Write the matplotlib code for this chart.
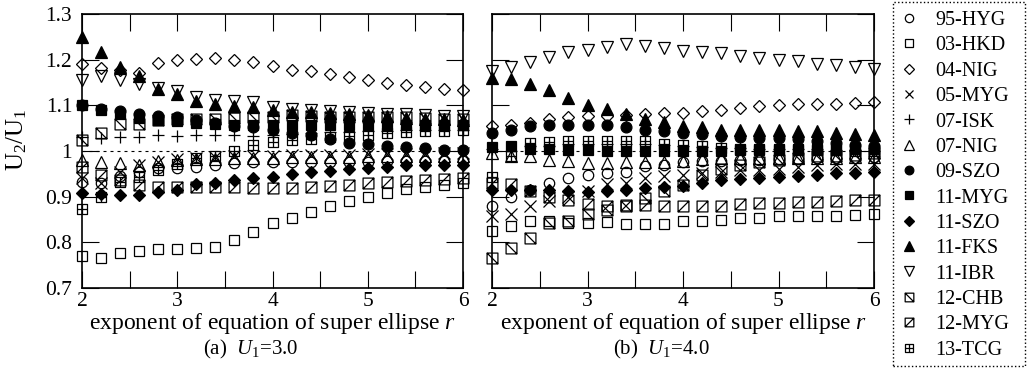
import matplotlib
matplotlib.use('Agg')
import matplotlib.pyplot as plt
from matplotlib.path import Path
from matplotlib.patches import Rectangle
from matplotlib.ticker import FixedLocator, FixedFormatter

plt.rcParams['font.family'] = 'serif'
plt.rcParams['font.serif'] = ['Liberation Serif', 'DejaVu Serif']
plt.rcParams['mathtext.fontset'] = 'custom'
plt.rcParams['mathtext.rm'] = 'Liberation Serif'
plt.rcParams['mathtext.it'] = 'Liberation Serif:italic'

# exponent r of the super ellipse
r = [2.0, 2.2, 2.4, 2.6, 2.8, 3.0, 3.2, 3.4, 3.6, 3.8, 4.0,
     4.2, 4.4, 4.6, 4.8, 5.0, 5.2, 5.4, 5.6, 5.8, 6.0]

names = ['95-HYG', '03-HKD', '04-NIG', '05-MYG', '07-ISK', '07-NIG', '09-SZO',
         '11-MYG', '11-SZO', '11-FKS', '11-IBR', '12-CHB', '12-MYG', '13-TCG']

# (a) U1 = 3.0
hyg95_a = [0.932, 0.930, 0.945, 0.955, 0.963, 0.963, 0.965, 0.969, 0.973, 0.976, 0.977, 0.977, 0.977, 0.977, 0.977, 0.977, 0.978, 0.978, 0.979, 0.979, 0.979]
hkd03_a = [0.770, 0.765, 0.777, 0.782, 0.785, 0.786, 0.787, 0.790, 0.805, 0.823, 0.842, 0.853, 0.867, 0.880, 0.891, 0.900, 0.909, 0.916, 0.922, 0.925, 0.929]
nig04_a = [1.190, 1.182, 1.178, 1.171, 1.192, 1.199, 1.201, 1.203, 1.199, 1.194, 1.187, 1.177, 1.175, 1.168, 1.161, 1.155, 1.150, 1.145, 1.141, 1.136, 1.134]
myg05_a = [0.940, 0.930, 0.955, 0.969, 0.976, 0.983, 0.985, 0.987, 0.988, 0.989, 0.990, 0.991, 0.991, 0.992, 0.992, 0.993, 0.993, 0.994, 0.994, 0.995, 0.995]
isk07_a = [1.030, 1.028, 1.031, 1.031, 1.034, 1.032, 1.034, 1.035, 1.034, 1.033, 1.036, 1.038, 1.040, 1.041, 1.042, 1.043, 1.044, 1.045, 1.046, 1.046, 1.047]
nig07_a = [0.980, 0.976, 0.974, 0.970, 0.978, 0.980, 0.982, 0.983, 0.984, 0.985, 0.985, 0.986, 0.986, 0.987, 0.987, 0.988, 0.988, 0.988, 0.989, 0.989, 0.990]
szo09_a = [1.100, 1.092, 1.087, 1.082, 1.077, 1.074, 1.068, 1.062, 1.055, 1.052, 1.047, 1.040, 1.035, 1.027, 1.018, 1.016, 1.010, 1.009, 1.006, 1.003, 1.002]
myg11_a = [1.101, 1.090, 1.080, 1.073, 1.068, 1.065, 1.062, 1.060, 1.058, 1.057, 1.056, 1.056, 1.056, 1.056, 1.057, 1.057, 1.057, 1.058, 1.058, 1.058, 1.058]
szo11_a = [0.907, 0.905, 0.904, 0.904, 0.910, 0.915, 0.927, 0.929, 0.936, 0.940, 0.944, 0.950, 0.953, 0.957, 0.960, 0.962, 0.966, 0.969, 0.969, 0.970, 0.970]
fks11_a = [1.250, 1.217, 1.185, 1.164, 1.135, 1.124, 1.110, 1.103, 1.098, 1.096, 1.090, 1.086, 1.085, 1.083, 1.081, 1.079, 1.076, 1.073, 1.071, 1.070, 1.068]
ibr11_a = [1.155, 1.164, 1.155, 1.147, 1.139, 1.132, 1.118, 1.112, 1.110, 1.108, 1.097, 1.092, 1.090, 1.088, 1.086, 1.084, 1.082, 1.080, 1.079, 1.077, 1.076]
chb12_a = [1.024, 1.039, 1.060, 1.060, 1.068, 1.069, 1.070, 1.071, 1.073, 1.074, 1.075, 1.078, 1.076, 1.075, 1.075, 1.075, 1.074, 1.074, 1.072, 1.071, 1.071]
myg12_a = [0.966, 0.947, 0.936, 0.925, 0.922, 0.921, 0.921, 0.921, 0.921, 0.920, 0.919, 0.919, 0.922, 0.924, 0.926, 0.929, 0.932, 0.934, 0.937, 0.938, 0.940]
tcg13_a = [0.874, 0.900, 0.933, 0.942, 0.958, 0.972, 0.984, 0.988, 1.000, 1.013, 1.019, 1.025, 1.027, 1.031, 1.032, 1.035, 1.039, 1.042, 1.043, 1.044, 1.046]

# (b) U1 = 4.0
hyg95_b = [0.880, 0.899, 0.915, 0.930, 0.941, 0.948, 0.952, 0.955, 0.967, 0.970, 0.975, 0.978, 0.979, 0.980, 0.981, 0.982, 0.983, 0.984, 0.985, 0.985, 0.986]
hkd03_b = [0.824, 0.835, 0.846, 0.846, 0.843, 0.842, 0.844, 0.840, 0.840, 0.840, 0.846, 0.846, 0.849, 0.853, 0.854, 0.857, 0.857, 0.857, 0.858, 0.860, 0.861]
nig04_b = [1.055, 1.058, 1.062, 1.071, 1.075, 1.076, 1.077, 1.079, 1.080, 1.083, 1.084, 1.088, 1.090, 1.095, 1.098, 1.100, 1.102, 1.102, 1.104, 1.106, 1.107]
myg05_b = [0.857, 0.862, 0.879, 0.890, 0.900, 0.912, 0.927, 0.930, 0.941, 0.945, 0.948, 0.952, 0.955, 0.958, 0.959, 0.960, 0.966, 0.970, 0.971, 0.972, 0.972]
isk07_b = [1.005, 1.000, 1.010, 1.012, 1.015, 1.015, 1.015, 1.015, 1.015, 1.013, 1.011, 1.009, 1.007, 1.006, 1.005, 1.005, 1.005, 1.004, 1.003, 1.002, 1.001]
nig07_b = [0.995, 0.990, 0.989, 0.981, 0.978, 0.974, 0.974, 0.976, 0.977, 0.977, 0.978, 0.982, 0.984, 0.984, 0.984, 0.984, 0.985, 0.985, 0.985, 0.986, 0.986]
szo09_b = [1.040, 1.047, 1.055, 1.058, 1.058, 1.058, 1.056, 1.052, 1.047, 1.044, 1.040, 1.037, 1.032, 1.030, 1.028, 1.028, 1.026, 1.022, 1.018, 1.014, 1.010]
myg11_b = [1.009, 1.010, 1.004, 1.004, 1.002, 1.002, 1.000, 1.000, 1.000, 0.999, 1.000, 1.001, 1.001, 1.002, 1.002, 1.002, 1.003, 1.003, 1.003, 1.004, 1.004]
szo11_b = [0.914, 0.915, 0.914, 0.915, 0.912, 0.910, 0.912, 0.915, 0.919, 0.921, 0.924, 0.930, 0.937, 0.938, 0.941, 0.943, 0.945, 0.947, 0.951, 0.952, 0.953]
fks11_b = [1.159, 1.157, 1.146, 1.134, 1.117, 1.101, 1.091, 1.080, 1.071, 1.063, 1.055, 1.053, 1.047, 1.047, 1.047, 1.046, 1.044, 1.043, 1.040, 1.037, 1.036]
ibr11_b = [1.175, 1.183, 1.195, 1.205, 1.216, 1.222, 1.228, 1.234, 1.230, 1.225, 1.219, 1.217, 1.214, 1.207, 1.203, 1.199, 1.196, 1.190, 1.188, 1.184, 1.179]
chb12_b = [0.765, 0.787, 0.809, 0.842, 0.846, 0.863, 0.870, 0.880, 0.897, 0.912, 0.925, 0.948, 0.961, 0.970, 0.977, 0.981, 0.985, 0.988, 0.990, 0.992, 0.996]
myg12_b = [0.930, 0.927, 0.912, 0.900, 0.893, 0.885, 0.880, 0.881, 0.882, 0.880, 0.879, 0.879, 0.880, 0.885, 0.886, 0.886, 0.888, 0.889, 0.890, 0.893, 0.893]
tcg13_b = [0.942, 0.990, 1.018, 1.019, 1.021, 1.021, 1.021, 1.021, 1.021, 1.016, 1.013, 1.011, 1.007, 1.005, 1.005, 1.005, 1.005, 1.004, 1.003, 1.001, 0.999]

series_a = [hyg95_a, hkd03_a, nig04_a, myg05_a, isk07_a, nig07_a, szo09_a,
            myg11_a, szo11_a, fks11_a, ibr11_a, chb12_a, myg12_a, tcg13_a]
series_b = [hyg95_b, hkd03_b, nig04_b, myg05_b, isk07_b, nig07_b, szo09_b,
            myg11_b, szo11_b, fks11_b, ibr11_b, chb12_b, myg12_b, tcg13_b]

# gnuplot-like boxed symbols
M, L, C = Path.MOVETO, Path.LINETO, Path.CLOSEPOLY
box = [(-1, -1), (1, -1), (1, 1), (-1, 1), (-1, -1)]
box_codes = [M, L, L, L, C]
sq_back = Path(box + [(-1, 1), (1, -1)], box_codes + [M, L])
sq_slash = Path(box + [(-1, -1), (1, 1)], box_codes + [M, L])
sq_plus = Path(box + [(0, -1), (0, 1), (-1, 0), (1, 0)], box_codes + [M, L, M, L])

# marker, filled, size
styles = [('o', False, 7.5), ('s', False, 7.8), ('D', False, 6.4), ('x', False, 8.0),
          ('+', False, 9.0), ('^', False, 8.3), ('o', True, 7.8), ('s', True, 7.8),
          ('D', True, 6.4), ('^', True, 8.3), ('v', False, 8.3), (sq_back, False, 7.8),
          (sq_slash, False, 7.8), (sq_plus, False, 7.8)]

fig = plt.figure(figsize=(10.28, 3.68), dpi=100)
ax1 = fig.add_axes([82 / 1028, 80 / 368, 381 / 1028, 274 / 368])
ax2 = fig.add_axes([492 / 1028, 80 / 368, 382 / 1028, 274 / 368])

handles = []
for ax, data in [(ax1, series_a), (ax2, series_b)]:
    ax.axhline(1.0, color='black', lw=0.8, ls=(0, (2.7, 3.6)), zorder=1)
    handles = []
    for name, (mk, filled, ms), vals in zip(names, styles, data):
        h, = ax.plot(r, vals, ls='none', marker=mk, ms=ms, mec='black',
                     mfc='black' if filled else 'none', mew=0.9, label=name,
                     clip_on=False, zorder=3)
        handles.append(h)
    ax.set_xlim(2, 6)
    ax.set_ylim(0.7, 1.3)
    ax.xaxis.set_major_locator(FixedLocator([2, 3, 4, 5, 6]))
    ax.xaxis.set_minor_locator(FixedLocator([2.5, 3.5, 4.5, 5.5]))
    ax.yaxis.set_major_locator(FixedLocator([0.7, 0.8, 0.9, 1.0, 1.1, 1.2, 1.3]))
    ax.tick_params(which='both', direction='in', length=12, width=0.8,
                   top=True, right=True, labelsize=15.5)
    ax.tick_params(axis='x', pad=3)
    ax.tick_params(axis='y', pad=7)
    for s in ax.spines.values():
        s.set_linewidth(1.2)
    ax.set_xlabel('exponent of equation of super ellipse $r$', fontsize=17, labelpad=0)

ax1.yaxis.set_major_formatter(FixedFormatter(['0.7', '0.8', '0.9', '1', '1.1', '1.2', '1.3']))
ax2.set_yticklabels([])
ax1.set_ylabel('U$_2$/U$_1$', fontsize=18)
ax1.yaxis.set_label_coords(-0.138, 0.54)

# captions sit a little left of the panel centres, as in the original
ax1.text(0.442, -0.225, r'(a)  $U_{\mathit{1}}$=3.0', transform=ax1.transAxes,
         ha='center', va='center', fontsize=15)
ax2.text(0.443, -0.225, r'(b)  $U_{\mathit{1}}$=4.0', transform=ax2.transAxes,
         ha='center', va='center', fontsize=15)

leg = fig.legend(handles, names, loc='upper left', bbox_to_anchor=(893 / 1028, 1 - 5 / 368),
                 fontsize=14.5, frameon=False, borderaxespad=0, borderpad=0.3,
                 handlelength=1.0, handletextpad=0.8, labelspacing=0.31, markerscale=0.8)
fig.patches.append(Rectangle((893 / 1028, 2 / 368), 132 / 1028, 364 / 368,
                             transform=fig.transFigure, fill=False, ec='black',
                             lw=1.0, ls=':'))

fig.savefig('out.png', dpi=100)
